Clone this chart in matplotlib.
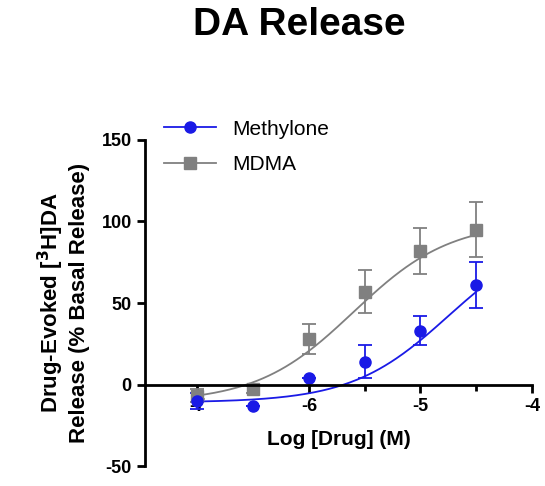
import numpy as np
import matplotlib
matplotlib.use("Agg")
import matplotlib.pyplot as plt
from matplotlib.lines import Line2D

plt.rcParams['font.family'] = ['Liberation Sans', 'DejaVu Sans']
plt.rcParams['axes.unicode_minus'] = False

log_dose = [-7, -6.5, -6, -5.5, -5, -4.5]
methylone = [-10, -13, 4, 14, 33, 61]
methylone_err = [5, 0, 0, 10, 9, 14]
mdma = [-7, -3, 28, 57, 82, 95]
mdma_err = [4, 2, 9, 13, 14, 17]

def hill(x, bottom, top, ec50, h=1.0):
    return bottom + (top - bottom) / (1 + 10 ** ((ec50 - x) * h))

fig = plt.figure(figsize=(5.45, 4.86), dpi=100)
ax = fig.add_axes([0.266, 0.041, 0.71, 0.671])
xx = np.linspace(-7, -4.5, 200)
blue = '#1a1ae6'
gray = '#808080'
ax.plot(xx, hill(xx, -11, 100, -5.6), color=gray, lw=1.3)
ax.plot(xx, hill(xx, -11, 95, -4.75), color=blue, lw=1.3)
ax.errorbar(log_dose, mdma, yerr=mdma_err, fmt='s', color=gray, ms=8, capsize=5, elinewidth=1.3, capthick=1.3)
ax.errorbar(log_dose, methylone, yerr=methylone_err, fmt='o', color=blue, ms=8, capsize=5, elinewidth=1.3, capthick=1.3)

ax.set_xlim(-7.47, -4)
ax.set_ylim(-50, 150)
ax.spines['top'].set_visible(False)
ax.spines['right'].set_visible(False)
ax.spines['bottom'].set_position(('data', 0))
for s in ['left', 'bottom']:
    ax.spines[s].set_linewidth(2)
ax.tick_params(width=2, length=6, labelsize=13)
ax.set_xticks([-7, -6, -5, -4])
ax.set_xticks([-6.5, -5.5, -4.5], minor=True)
ax.tick_params(which='minor', width=2, length=4)
ax.set_yticks([-50, 0, 50, 100, 150])
for t in ax.get_xticklabels() + ax.get_yticklabels():
    t.set_fontweight('bold')
ax.text(-5.73, -34, 'Log [Drug] (M)', ha='center', va='center', fontsize=15, fontweight='bold')
ax.set_ylabel('Drug-Evoked [$^\\mathbf{3}$H]DA\nRelease (% Basal Release)', fontsize=16, fontweight='bold', labelpad=8)
handles = [Line2D([], [], color=blue, marker='o', ms=8, lw=1.3),
           Line2D([], [], color=gray, marker='s', ms=8, lw=1.3)]
ax.legend(handles, ['Methylone', 'MDMA'], loc='upper left', bbox_to_anchor=(0.0, 1.12),
          frameon=False, fontsize=15, handlelength=2.5, labelspacing=0.8)
fig.suptitle('DA Release', fontsize=28, fontweight='bold', x=0.55, y=0.985)
fig.savefig('out.png')
